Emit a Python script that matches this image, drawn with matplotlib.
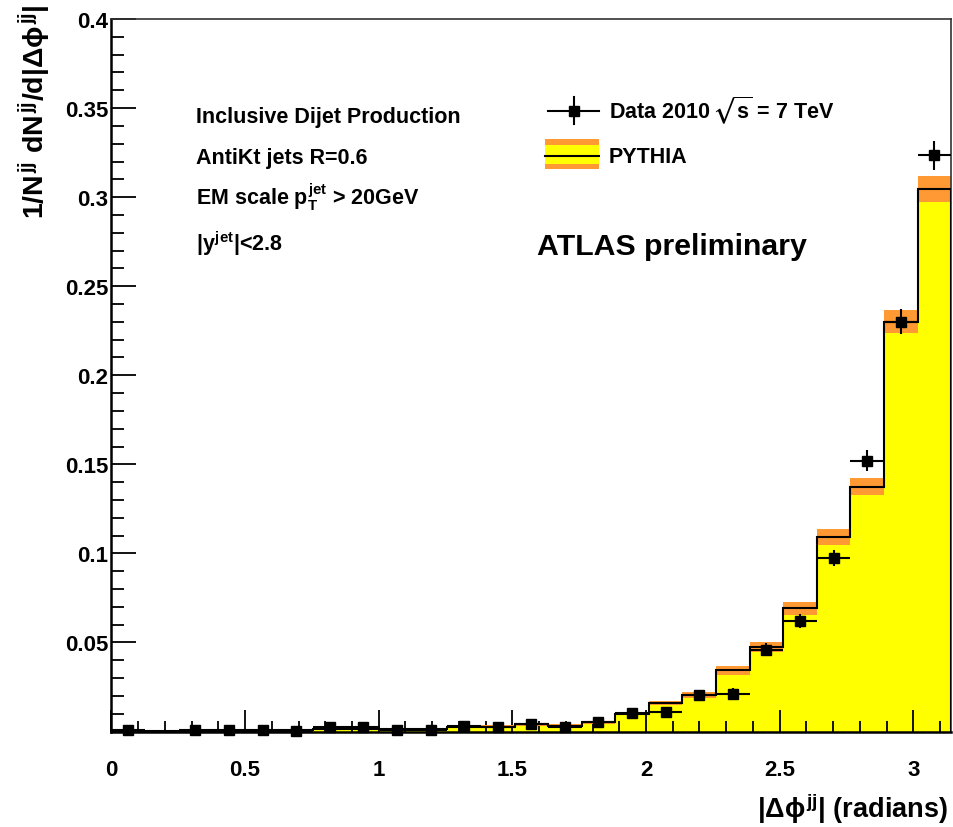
import numpy as np
import matplotlib
matplotlib.use("Agg")
import matplotlib.pyplot as plt
from matplotlib.patches import Rectangle
from matplotlib.lines import Line2D
from matplotlib.ticker import MultipleLocator, FuncFormatter

plt.rcParams["font.family"] = ["Liberation Sans", "DejaVu Sans"]
plt.rcParams["font.weight"] = "bold"
plt.rcParams["mathtext.fontset"] = "custom"
plt.rcParams["mathtext.rm"] = "Liberation Sans:bold"
plt.rcParams["mathtext.it"] = "Liberation Sans:bold"
plt.rcParams["mathtext.bf"] = "Liberation Sans:bold"
plt.rcParams["mathtext.sf"] = "Liberation Sans:bold"
plt.rcParams["mathtext.fallback"] = "stixsans"

# 25 bins of |dphi| between 0 and pi
n_bins = 25
bin_edges = np.linspace(0.0, np.pi, n_bins + 1)

# Measured distribution (1/N dN/d|dphi|); bin 2 has no entry drawn
data_values = [0.0010, np.nan, 0.0010, 0.0010, 0.0010, 0.0002, 0.0023, 0.0023,
               0.0008, 0.0008, 0.0033, 0.0023, 0.0042, 0.0027, 0.0052, 0.0102,
               0.0111, 0.0205, 0.0213, 0.0460, 0.0620, 0.0975, 0.1520, 0.2300,
               0.3235]
data_errors = [0.0020, 0.0, 0.0020, 0.0020, 0.0020, 0.0020, 0.0025, 0.0025,
               0.0020, 0.0020, 0.0025, 0.0025, 0.0025, 0.0025, 0.0025, 0.0025,
               0.0025, 0.0030, 0.0030, 0.0035, 0.0040, 0.0045, 0.0060, 0.0070,
               0.0080]

# PYTHIA prediction and its uncertainty band (half width)
pythia_values = [0.0005, 0.0005, 0.0005, 0.0005, 0.0005, 0.0008, 0.0014, 0.0014,
                 0.0012, 0.0012, 0.0025, 0.0027, 0.0040, 0.0033, 0.0052, 0.0100,
                 0.0160, 0.0204, 0.0345, 0.0477, 0.0692, 0.1090, 0.1375, 0.2300,
                 0.3048]
pythia_band = [0.0006, 0.0006, 0.0006, 0.0006, 0.0006, 0.0006, 0.0006, 0.0006,
               0.0006, 0.0006, 0.0006, 0.0007, 0.0008, 0.0008, 0.0008, 0.0010,
               0.0012, 0.0015, 0.0025, 0.0028, 0.0037, 0.0045, 0.0048, 0.0064,
               0.0073]

x_tick_labels = ["0", "0.5", "1", "1.5", "2", "2.5", "3"]

W, H = 954, 828
fig = plt.figure(figsize=(W / 100, H / 100), dpi=100)
fig.patch.set_facecolor("white")
ax_l, ax_r, ax_t, ax_b = 111.4, 951.2, 20.0, 732.5
ax = fig.add_axes([ax_l / W, 1 - ax_b / H, (ax_r - ax_l) / W, (ax_b - ax_t) / H])


def axc(px, py):
    """Pixel position in the figure -> axes fraction."""
    return ((px - ax_l) / (ax_r - ax_l), (ax_b - py) / (ax_b - ax_t))


pv = np.array(pythia_values)
pb = np.array(pythia_band)
centers = 0.5 * (bin_edges[:-1] + bin_edges[1:])
half_w = 0.5 * np.diff(bin_edges)

orange = "#ff9933"
yellow = "#ffff00"

# PYTHIA: yellow filled histogram, orange band, black outline
ax.stairs(pv, bin_edges, baseline=0, fill=True, color=yellow, zorder=1)
ax.stairs(pv + pb, bin_edges, baseline=pv - pb, fill=True, color=orange,
          linewidth=0, zorder=2)
ax.stairs(pv, bin_edges, baseline=0, color="black", linewidth=1.5, zorder=3)

# Data points
ax.errorbar(centers, data_values, xerr=half_w, yerr=data_errors, fmt="s",
            color="black", markersize=6.5, elinewidth=1.5, capsize=0,
            zorder=5, clip_on=False)

ax.set_xlim(0, np.pi)
ax.set_ylim(0, 0.4)

ax.xaxis.set_minor_locator(MultipleLocator(0.1))
ax.set_xticks(np.arange(len(x_tick_labels)) * 0.5)
ax.set_xticklabels(x_tick_labels)
ax.yaxis.set_major_locator(MultipleLocator(0.05))
ax.yaxis.set_minor_locator(MultipleLocator(0.01))
ax.yaxis.set_major_formatter(FuncFormatter(lambda v, p: "" if abs(v) < 1e-9 else "%g" % round(v, 3)))

ax.tick_params(axis="x", which="major", direction="in", length=16, width=1.3,
               labelsize=16, pad=20, top=False)
ax.tick_params(axis="x", which="minor", direction="in", length=8, width=1.3, top=False)
ax.tick_params(axis="y", which="major", direction="in", length=18, width=1.3,
               labelsize=16, pad=2, right=False)
ax.tick_params(axis="y", which="minor", direction="in", length=9, width=1.3, right=False)
for lab in ax.get_xticklabels() + ax.get_yticklabels():
    lab.set_fontweight("bold")

for s in ["left", "bottom"]:
    ax.spines[s].set_linewidth(1.8)
for s in ["top", "right"]:
    ax.spines[s].set_linewidth(1.2)
    ax.spines[s].set_color("#333333")

# Axis titles
ax.set_xlabel(r"$|\Delta\phi^{jj}|$ (radians)", fontsize=19.5, fontweight="bold",
              ha="right", va="baseline")
ax.xaxis.set_label_coords(*axc(948, 818))
ax.set_ylabel(r"$1/N^{jj}\ dN^{jj}/d|\Delta\phi^{jj}|$", fontsize=20.5,
              fontweight="bold", ha="right", va="center")
ax.yaxis.set_label_coords(*axc(35, 4))

# Selection text
txt_kw = dict(transform=ax.transAxes, fontsize=15.5, fontweight="bold",
              ha="left", va="baseline")
ax.text(*axc(196, 123), "Inclusive Dijet Production", **txt_kw)
ax.text(*axc(196, 164), "AntiKt jets R=0.6", **txt_kw)
ax.text(*axc(196, 205), r"EM scale $p_{T}^{jet}$ > 20GeV", **txt_kw)
ax.text(*axc(196, 251), r"|$y^{jet}$|<2.8", **txt_kw)
ax.text(*axc(537, 255), "ATLAS preliminary", transform=ax.transAxes,
        fontsize=21.8, fontweight="bold", ha="left", va="baseline")

# Legend
x0, x1 = axc(548, 0)[0], axc(599, 0)[0]
ym = axc(0, 111.7)[1]
xm = axc(573.5, 0)[0]
ax.add_line(Line2D([x0, x1], [ym, ym], color="black", lw=1.5,
                   transform=ax.transAxes, clip_on=False, zorder=6))
ax.add_line(Line2D([xm, xm], [axc(0, 98)[1], axc(0, 125)[1]], color="black",
                   lw=1.5, transform=ax.transAxes, clip_on=False, zorder=6))
ax.plot([xm], [ym], "s", color="black", markersize=6.5, transform=ax.transAxes,
        clip_on=False, zorder=7)
ax.text(*axc(609, 118.3), r"Data 2010$\,\sqrt{s}$ = 7 TeV", **txt_kw)

bx0 = axc(545, 0)[0]
bx1 = axc(599, 0)[0]
ax.add_patch(Rectangle((bx0, axc(0, 170)[1]), bx1 - bx0, axc(0, 140)[1] - axc(0, 170)[1],
                       facecolor=orange, edgecolor="none", transform=ax.transAxes,
                       clip_on=False, zorder=6))
ax.add_patch(Rectangle((bx0, axc(0, 165)[1]), bx1 - bx0, axc(0, 146)[1] - axc(0, 165)[1],
                       facecolor=yellow, edgecolor="none", transform=ax.transAxes,
                       clip_on=False, zorder=6))
yl = axc(0, 156.7)[1]
ax.add_line(Line2D([bx0, bx1], [yl, yl], color="black", lw=1.5,
                   transform=ax.transAxes, clip_on=False, zorder=7))
ax.text(*axc(609, 162.7), "PYTHIA", **txt_kw)

fig.savefig("out.png", dpi=100, facecolor="white")
